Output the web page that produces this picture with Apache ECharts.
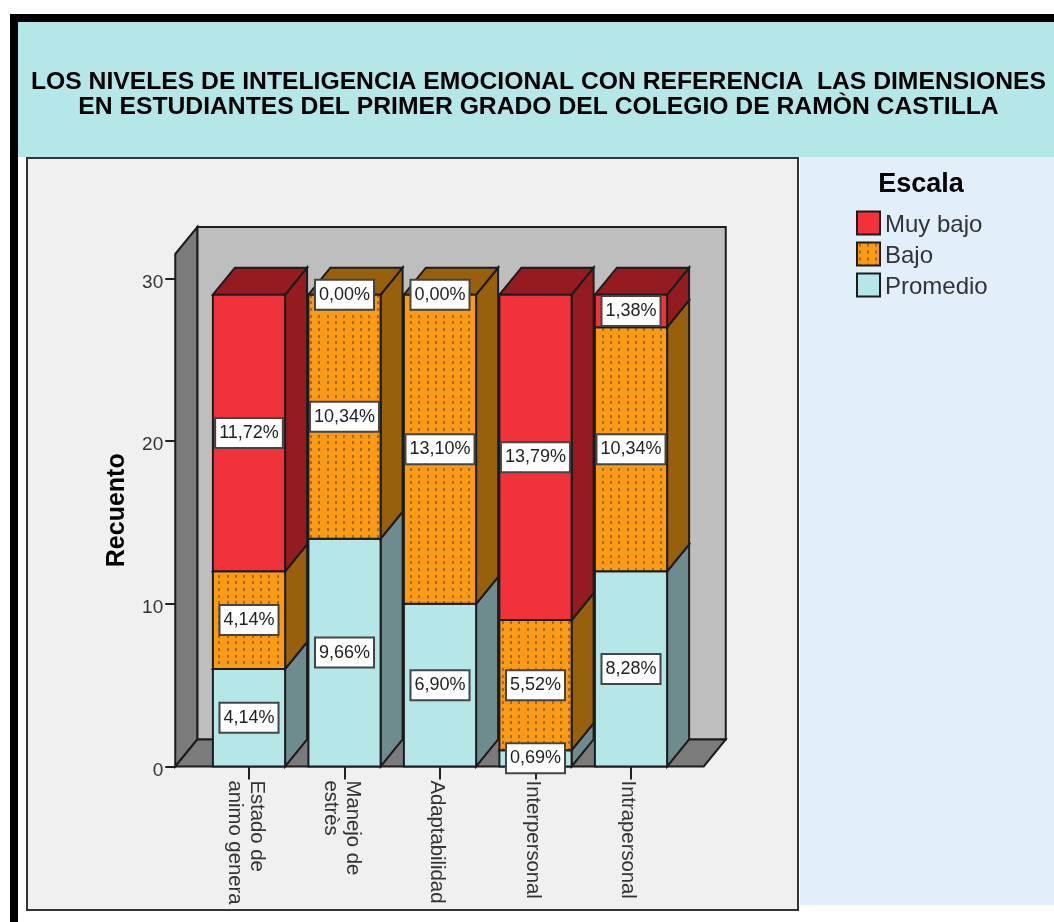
<!DOCTYPE html>
<html>
<head>
<meta charset="utf-8">
<style>html,body{margin:0;padding:0;background:#fff}#chart{width:1054px;height:922px}</style>
<script src="https://cdn.jsdelivr.net/npm/echarts@6/dist/echarts.min.js"></script>
</head>
<body>
<div id="chart"></div>
<script>
const categories = ['Estado de\nanimo genera', 'Manejo de\nestrès', 'Adaptabilidad', 'Interpersonal', 'Intrapersonal'];
const promedio = [6, 14, 10, 1, 12];
const bajo = [6, 15, 19, 8, 15];
const muyBajo = [17, 0, 0, 20, 2];
const promedioPct = ['4,14%', '9,66%', '6,90%', '0,69%', '8,28%'];
const bajoPct = ['4,14%', '10,34%', '13,10%', '5,52%', '10,34%'];
const muyBajoPct = ['11,72%', '0,00%', '0,00%', '13,79%', '1,38%'];
const yTicks = [0, 10, 20, 30];

const FONT = '"Liberation Sans", Arial, sans-serif';
const EDGE = '#1c1c1c';
const DX = 22, DY = 27; // 3d depth of the box

// dotted fill used by Bajo
function dotPattern() {
    const c = document.createElement('canvas');
    c.width = 25; c.height = 20;
    const g = c.getContext('2d');
    g.fillStyle = '#fb9a14';
    g.fillRect(0, 0, 25, 20);
    g.fillStyle = '#a06a1a';
    [2, 10, 18].forEach(x => {
        [1, 8, 15].forEach(y => g.fillRect(x, y, 2, 3));
    });
    return {image: c, repeat: 'repeat'};
}

const levels = [
    {name: 'Promedio', values: promedio, front: '#b5e6e8', top: '#6e8c8d', side: '#6e8c8d'},
    {name: 'Bajo', values: bajo, front: dotPattern(), top: '#985f0c', side: '#985f0c'},
    {name: 'Muy bajo', values: muyBajo, front: '#f2323a', top: '#941c20', side: '#941c20'}
];

const poly = (points, fill) => ({
    type: 'polygon',
    shape: {points},
    style: {fill, stroke: EDGE, lineWidth: 2, lineJoin: 'miter'}
});

const renderWalls = (params, api) => {
    const cs = params.coordSys;
    const l = cs.x - 26, r = cs.x + cs.width + 25;
    const t = cs.y, b = cs.y + cs.height;
    return {
        type: 'group',
        children: [
            poly([[l + DX, t - DY], [r + DX, t - DY], [r + DX, b - DY], [l + DX, b - DY]], '#bebebe'),
            poly([[l, t], [l + DX, t - DY], [l + DX, b - DY], [l, b]], '#7b7b7b'),
            poly([[l, b], [l + DX, b - DY], [r + DX, b - DY], [r, b]], '#7b7b7b')
        ]
    };
};

const stackBelow = (idx, i) => {
    let s = 0;
    for (let k = 0; k < idx; k++) s += levels[k].values[i];
    return s;
};

const renderSegment = idx => (params, api) => {
    const i = api.value(0);
    const v = api.value(1);
    if (!v) return {type: 'group', children: []};
    const base = stackBelow(idx, i);
    const lo = api.coord([i, base]);
    const hi = api.coord([i, base + v]);
    const half = api.size([1, 0])[0] * 0.378;
    const x0 = lo[0] - half, x1 = lo[0] + half;
    const level = levels[idx];
    return {
        type: 'group',
        children: [
            poly([[x1, lo[1]], [x1 + DX, lo[1] - DY], [x1 + DX, hi[1] - DY], [x1, hi[1]]], level.side),
            poly([[x0, hi[1]], [x0 + DX, hi[1] - DY], [x1 + DX, hi[1] - DY], [x1, hi[1]]], level.top),
            poly([[x0, lo[1]], [x1, lo[1]], [x1, hi[1]], [x0, hi[1]]], level.front)
        ]
    };
};

const pctByLevel = [promedioPct, bajoPct, muyBajoPct];
const labelData = [];
levels.forEach((level, idx) => {
    level.values.forEach((v, i) => {
        labelData.push([i, stackBelow(idx, i) + v / 2, pctByLevel[idx][i]]);
    });
});

const renderLabel = (params, api) => {
    const p = api.coord([api.value(0), api.value(1)]);
    return {
        type: 'text',
        x: p[0],
        y: p[1],
        style: {
            text: labelData[params.dataIndex][2],
            font: '18px ' + FONT,
            fill: '#222',
            align: 'center',
            verticalAlign: 'middle',
            backgroundColor: '#fff',
            borderColor: '#444',
            borderWidth: 2,
            padding: [5, 3, 5, 3]
        }
    };
};

const series = [{
    type: 'custom',
    name: 'walls',
    data: [[0, 0]],
    clip: false,
    silent: true,
    renderItem: renderWalls,
    encode: {x: 0, y: 1}
}];
levels.forEach((level, idx) => {
    series.push({
        type: 'custom',
        name: level.name,
        clip: false,
        itemStyle: {color: level.front, borderColor: EDGE, borderWidth: 2},
        data: level.values.map((v, i) => [i, v]),
        encode: {x: 0, y: 1},
        renderItem: renderSegment(idx)
    });
});
series.push({
    type: 'custom',
    name: 'pct',
    clip: false,
    silent: true,
    z: 10,
    data: labelData.map(d => [d[0], d[1]]),
    encode: {x: 0, y: 1},
    renderItem: renderLabel
});

const chart = echarts.init(document.getElementById('chart'));
chart.setOption({
    animation: false,
    backgroundColor: '#fff',
    graphic: [
        {type: 'rect', z: -10, silent: true, shape: {x: 10, y: 14, width: 1044, height: 908}, style: {fill: '#000'}},
        {type: 'rect', z: -9, silent: true, shape: {x: 18, y: 22, width: 1036, height: 900}, style: {fill: '#fff'}},
        {type: 'rect', z: -8, silent: true, shape: {x: 18, y: 22, width: 1036, height: 135}, style: {fill: '#b5e6e8'}},
        {type: 'rect', z: -8, silent: true, shape: {x: 800, y: 157, width: 254, height: 748}, style: {fill: '#e2eefa'}},
        {type: 'rect', z: -7, silent: true, shape: {x: 27, y: 158, width: 771, height: 752}, style: {fill: '#f0f0f0', stroke: '#333', lineWidth: 2}}
    ],
    title: [
        {
            text: 'LOS NIVELES DE INTELIGENCIA EMOCIONAL CON REFERENCIA  LAS DIMENSIONES\nEN ESTUDIANTES DEL PRIMER GRADO DEL COLEGIO DE RAMÒN CASTILLA',
            left: 533.5,
            top: 65,
            textAlign: 'center',
            textStyle: {fontFamily: FONT, fontSize: 24.7, fontWeight: 'bold', color: '#000', lineHeight: 25}
        },
        {
            text: 'Escala',
            left: 916,
            top: 166,
            textAlign: 'center',
            textStyle: {fontFamily: FONT, fontSize: 27, fontWeight: 'bold', color: '#000'}
        }
    ],
    legend: {
        orient: 'vertical',
        left: 856,
        top: 209,
        padding: 0,
        itemWidth: 23,
        itemHeight: 23,
        itemGap: 3,
        icon: 'rect',
        data: ['Muy bajo', 'Bajo', 'Promedio'],
        formatter: '{a|{name}}',
        textStyle: {
            rich: {a: {fontFamily: FONT, fontSize: 24, lineHeight: 25, padding: [4, 0, 0, 0], color: '#333'}}
        }
    },
    grid: {left: 201.25, width: 477.5, top: 254, height: 512.5},
    xAxis: {
        type: 'category',
        data: categories,
        axisLine: {show: false},
        axisTick: {show: true, alignWithLabel: true, length: 13, lineStyle: {color: '#222', width: 2}},
        axisLabel: {
            interval: 0,
            rotate: -90,
            margin: 14,
            formatter: v => v.split('\n').map(s => '{a|' + s + '}').join('\n'),
            rich: {a: {fontFamily: FONT, fontSize: 20.3, lineHeight: 22, padding: [6, 0, 0, 0], color: '#333'}}
        }
    },
    yAxis: {
        type: 'value',
        min: 0,
        max: 31.5,
        offset: 26,
        name: 'Recuento',
        nameLocation: 'middle',
        nameGap: 46,
        nameTextStyle: {fontFamily: FONT, fontSize: 25, fontWeight: 'bold', color: '#000'},
        splitLine: {show: false},
        axisLine: {show: true, lineStyle: {color: '#222', width: 2}},
        axisTick: {show: true, length: 10, customValues: yTicks, lineStyle: {color: '#222', width: 2}},
        axisLabel: {
            customValues: yTicks,
            margin: 12,
            formatter: '{a|{value}}',
            rich: {a: {fontFamily: FONT, fontSize: 19, padding: [8, 0, 0, 0], color: '#333'}}
        }
    },
    series
});
</script>
</body>
</html>
